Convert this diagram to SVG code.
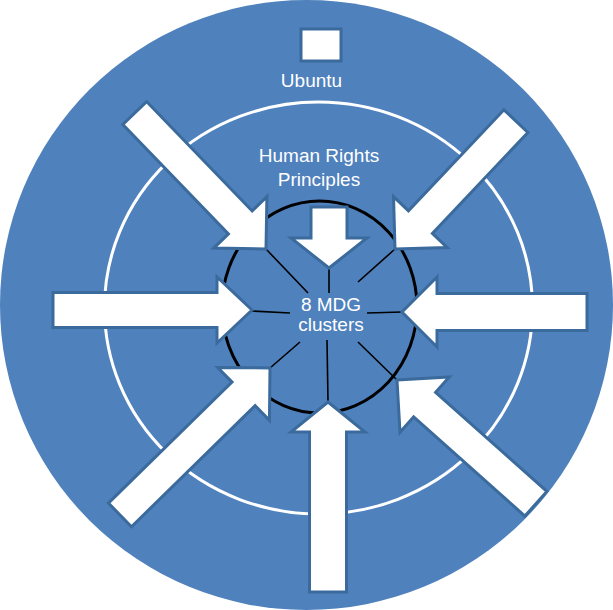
<svg xmlns="http://www.w3.org/2000/svg" width="613" height="610" viewBox="0 0 613 610">
  <style>
    .disc { fill: #4f81bd; }
    .ring { fill: none; stroke: #ffffff; stroke-width: 3; }
    .core { fill: none; stroke: #000000; stroke-width: 3; }
    .spoke { stroke: #000000; stroke-width: 1.6; }
    .arrow { fill: #ffffff; stroke: #3b6a9c; stroke-width: 3; stroke-linejoin: miter; }
    .label { fill: #ffffff; font-family: "Liberation Sans", Arial, sans-serif; font-size: 19px; text-anchor: middle; }
  </style>
  <rect width="613" height="610" fill="#ffffff"/>

  <!-- background layers -->
  <g id="backdrop">
    <ellipse class="disc" cx="306.5" cy="305" rx="306.5" ry="305"/>
    <ellipse class="ring" cx="318.5" cy="308" rx="214" ry="206"/>
    <ellipse class="core" cx="319.5" cy="307" rx="97.5" ry="106"/>
  </g>

  <!-- spokes from the hub to each arrow tip -->
  <g id="connectors">
    <line class="spoke" x1="290" y1="313" x2="252" y2="311"/>
    <line class="spoke" x1="367" y1="313" x2="402" y2="312"/>
    <line class="spoke" x1="329" y1="293" x2="329" y2="268"/>
    <line class="spoke" x1="327" y1="340" x2="328" y2="402"/>
    <line class="spoke" x1="308" y1="293" x2="266" y2="249"/>
    <line class="spoke" x1="358" y1="282" x2="395" y2="249"/>
    <line class="spoke" x1="300" y1="342" x2="270" y2="368"/>
    <line class="spoke" x1="358" y1="342" x2="397" y2="380"/>
  </g>

  <!-- Ubuntu -->
  <g id="ubuntu">
    <rect x="301" y="29" width="40" height="32" fill="#ffffff" stroke="#3b6a9c" stroke-width="3"/>
    <text class="label" x="311.5" y="87">Ubuntu</text>
  </g>

  <!-- Human Rights Principles with its arrow -->
  <g id="human-rights">
    <text class="label" x="319" y="162">Human Rights</text>
    <text class="label" x="319" y="186">Principles</text>
    <path class="arrow" transform="translate(329,268) rotate(90)" d="M0,0 L-30,-38 L-30,-18 L-61,-18 L-61,18 L-30,18 L-30,38 Z"/>
  </g>

  <!-- outer arrows -->
  <g id="arrow-left">
    <path class="arrow" transform="translate(252,310)" d="M0,0 L-35,-33 L-35,-17.5 L-199,-17.5 L-199,17.5 L-35,17.5 L-35,33 Z"/>
  </g>
  <g id="arrow-right">
    <path class="arrow" transform="translate(402,312) rotate(180)" d="M0,0 L-35,-35 L-35,-18.5 L-185,-18.5 L-185,18.5 L-35,18.5 L-35,35 Z"/>
  </g>
  <g id="arrow-bottom">
    <path class="arrow" transform="translate(328,402) rotate(-90)" d="M0,0 L-30,-37 L-30,-18.5 L-190,-18.5 L-190,18.5 L-30,18.5 L-30,37 Z"/>
  </g>
  <g id="arrow-top-left">
    <path class="arrow" transform="translate(266,249) rotate(46)" d="M0,0 L-37,-37 L-37,-16.5 L-189,-16.5 L-189,16.5 L-37,16.5 L-37,37 Z"/>
  </g>
  <g id="arrow-top-right">
    <path class="arrow" transform="translate(395,249) rotate(133.4)" d="M0,0 L-37,-37 L-37,-16.5 L-176,-16.5 L-176,16.5 L-37,16.5 L-37,37 Z"/>
  </g>
  <g id="arrow-bottom-left">
    <path class="arrow" transform="translate(270,368) rotate(-44.4)" d="M0,0 L-37,-37 L-37,-16.5 L-210,-16.5 L-210,16.5 L-37,16.5 L-37,37 Z"/>
  </g>
  <g id="arrow-bottom-right">
    <path class="arrow" transform="translate(397,380) rotate(-138.3)" d="M0,0 L-37,-37 L-37,-16.5 L-186,-16.5 L-186,16.5 L-37,16.5 L-37,37 Z"/>
  </g>

  <!-- hub label -->
  <g id="mdg-clusters">
    <text class="label" x="331" y="311">8 MDG</text>
    <text class="label" x="331" y="331">clusters</text>
  </g>
</svg>
